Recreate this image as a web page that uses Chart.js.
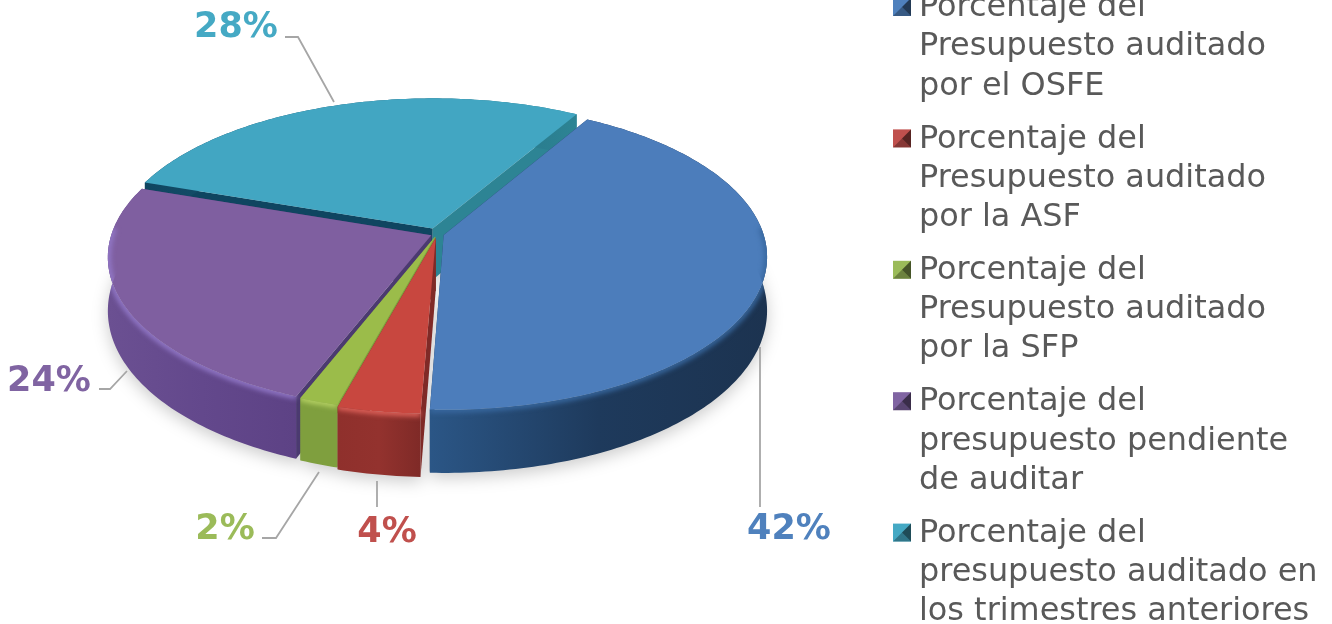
<!DOCTYPE html>
<html><head><meta charset="utf-8">
<style>html,body{margin:0;padding:0;background:#fff;overflow:hidden}canvas{display:block}</style>
<script src="https://cdn.jsdelivr.net/npm/chart.js@4"></script></head>
<body><canvas id="c" width="1332" height="624"></canvas>
<script>
const categories = [
  ["Porcentaje del","Presupuesto auditado","por el OSFE"],
  ["Porcentaje del","Presupuesto auditado","por la ASF"],
  ["Porcentaje del","Presupuesto auditado","por la SFP"],
  ["Porcentaje del","presupuesto pendiente","de auditar"],
  ["Porcentaje del","presupuesto auditado en","los trimestres anteriores"]
];
const values = [42.2, 3.6, 1.7, 24.3, 28.2];
const sliceOffsets = [5, 6, 4, 4.5, 9];
const labelColors = ["#4f81bd","#c0504d","#9bbb59","#8064a2","#45a9c4"];
const topColors   = ["#4c7dbb","#c8473f","#9bbc4a","#7f5fa0","#42a6c2"];
const rimColors   = ["#38689f","#e0625a","#b6d264","#9278c8","#42a6c2"];
const wallColors  = [["#2b5686","#1e3a5c","#1c3350"],["#8f302c","#93322e","#7f2a27"],["#7f9f3e","#7f9f3e","#7f9f3e"],["#6b5092","#63488c","#5d4285"],["#0f4560","#1d6079","#2d8494"]];
const faceColors  = [["#1e3a5c","#1e3a5c"],["#7f2a27","#7f2a27"],["#7f9f3e","#7f9f3e"],["#4b3a70","#4b3a70"],["#0f4560","#2d8494"]];
const drawOrder = [4,3,0,2,1];
const labelLayout = [
  {x:789,y:530,path:[[760,347],[760,507]]},
  {x:387,y:533,path:[[377,481],[377,507]]},
  {x:225,y:530,path:[[319,472],[276,538],[262,538]]},
  {x:49,y:382,path:[[127,371],[110,389],[99,389]]},
  {x:236,y:28,path:[[334,102],[298,37],[285,37]]}
];
const SX=326/234, SY=152.9/234, K=0.141;
function project(arc,X,Y,lower){
  const d=1-K*Y;
  const y=arc.y+arc.outerRadius*SY*Y/d;
  return {x:arc.x+arc.outerRadius*SX*X/d, y:y+(lower?52+11*Y:0)};
}
function rim(arc,lower){
  const off=(arc.options.offset||0)/arc.outerRadius;
  const mid=(arc.startAngle+arc.endAngle)/2;
  const ox=off*Math.cos(mid), oy=off*Math.sin(mid);
  const s=arc.startAngle, e=arc.endAngle;
  const n=Math.max(4,Math.ceil((e-s)*60));
  const pts=[];
  for(let i=0;i<=n;i++){const t=s+(e-s)*i/n;pts.push(project(arc,Math.cos(t)+ox,Math.sin(t)+oy,lower));}
  return {pts,apex:project(arc,ox,oy,lower)};
}
function poly(ctx,pts){ctx.beginPath();pts.forEach((p,i)=>i?ctx.lineTo(p.x,p.y):ctx.moveTo(p.x,p.y));ctx.closePath();}
const pie3d={
  id:'pie3d',
  beforeDatasetDraw(chart,args){
    const ctx=chart.ctx, arcs=chart.getDatasetMeta(args.index).data;
    ctx.save();
    ctx.save();
    ctx.filter='blur(8px)';
    ctx.fillStyle='rgba(0,0,0,0.2)';
    ctx.beginPath();
    arcs.forEach(a=>{const r=rim(a,true);[r.apex,...r.pts].forEach((p,i)=>i?ctx.lineTo(p.x,p.y+5):ctx.moveTo(p.x,p.y+5));ctx.closePath();});
    ctx.fill();
    ctx.restore();
    drawOrder.forEach(i=>{
      const a=arcs[i], t=rim(a,false), b=rim(a,true);
      const lastT=t.pts[t.pts.length-1], lastB=b.pts[b.pts.length-1];
      ctx.fillStyle=faceColors[i][0];
      poly(ctx,[t.apex,t.pts[0],b.pts[0],b.apex]);ctx.fill();
      ctx.fillStyle=faceColors[i][1];
      poly(ctx,[t.apex,lastT,lastB,b.apex]);ctx.fill();
      const xs=t.pts.map(p=>p.x), x0=Math.min(...xs), x1=Math.max(...xs);
      const g=ctx.createLinearGradient(x0,0,x1,0);
      const w=wallColors[i];
      g.addColorStop(0,w[0]);g.addColorStop(.5,w[1]);g.addColorStop(1,w[2]);
      ctx.fillStyle=g;
      poly(ctx,[...t.pts,...b.pts.slice().reverse()]);ctx.fill();
      ctx.fillStyle=topColors[i];
      poly(ctx,[t.apex,...t.pts]);ctx.fill();
      const front=[];
      t.pts.forEach((p,j)=>{const ang=a.startAngle+(a.endAngle-a.startAngle)*j/(t.pts.length-1);if(Math.sin(ang)>-0.05)front.push(p);});
      if(front.length>1){
        ctx.save();
        const sil=new Path2D();
        [t.apex,...t.pts,...b.pts.slice().reverse(),b.apex].forEach((p,j)=>j?sil.lineTo(p.x,p.y):sil.moveTo(p.x,p.y));
        sil.closePath();
        ctx.clip(sil);
        ctx.filter='blur(2.5px)';
        ctx.strokeStyle=rimColors[i];
        ctx.lineWidth=6;
        ctx.beginPath();
        front.forEach((p,j)=>j?ctx.lineTo(p.x,p.y):ctx.moveTo(p.x,p.y));
        ctx.stroke();
        ctx.restore();
      }
    });
    ctx.restore();
    return false;
  },
  afterDatasetsDraw(chart){
    const ctx=chart.ctx, total=values.reduce((s,v)=>s+v,0);
    ctx.save();
    ctx.strokeStyle='#a6a6a6';ctx.lineWidth=1.8;
    labelLayout.forEach((l,i)=>{
      ctx.beginPath();l.path.forEach((p,j)=>j?ctx.lineTo(p[0],p[1]):ctx.moveTo(p[0],p[1]));ctx.stroke();
      ctx.font='bold 35px "DejaVu Sans"';
      ctx.textAlign='center';ctx.textBaseline='middle';
      ctx.fillStyle=labelColors[i];
      ctx.fillText(Math.round(values[i]/total*100)+'%',l.x,l.y);
    });
    const legX=919, swX=893, lineH=39.2, itemH=131.4, y0=8;
    categories.forEach((lines,i)=>{
      const y=y0+i*itemH;
      const sx=swX, sy=y-10, s=18;
      ctx.fillStyle=labelColors[i];ctx.fillRect(sx,sy,s,s);
      ctx.fillStyle='rgba(0,0,0,.55)';
      ctx.beginPath();ctx.moveTo(sx+s,sy);ctx.lineTo(sx+s,sy+s);ctx.lineTo(sx+s/2,sy+s/2);ctx.closePath();ctx.fill();
      ctx.fillStyle='rgba(0,0,0,.3)';
      ctx.beginPath();ctx.moveTo(sx,sy+s);ctx.lineTo(sx+s,sy+s);ctx.lineTo(sx+s/2,sy+s/2);ctx.closePath();ctx.fill();
      ctx.fillStyle='#595959';ctx.font='31.9px "DejaVu Sans"';
      ctx.textAlign='left';ctx.textBaseline='middle';
      lines.forEach((t,j)=>ctx.fillText(t,legX,y+j*lineH));
    });
    ctx.restore();
  }
};
new Chart(document.getElementById('c'),{
  type:'pie',
  data:{labels:categories.map(l=>l.join(' ')),datasets:[{data:values,backgroundColor:labelColors,offset:sliceOffsets,borderWidth:0}]},
  options:{
    responsive:false,animation:false,rotation:30.38,
    layout:{padding:{left:0,top:0,right:458,bottom:156}},
    plugins:{legend:{display:false},tooltip:{enabled:false}}
  },
  plugins:[pie3d]
});
</script></body></html>
